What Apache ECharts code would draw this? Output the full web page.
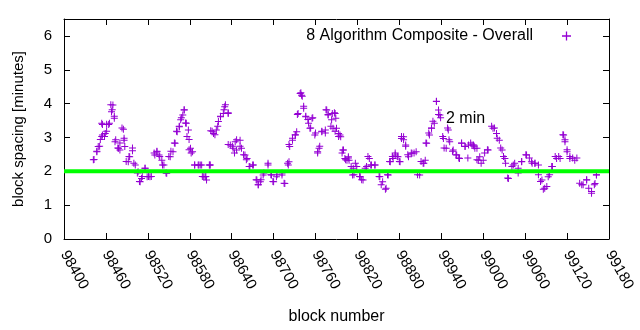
<!DOCTYPE html>
<html><head><meta charset="utf-8">
<script src="https://cdn.jsdelivr.net/npm/echarts@6/dist/echarts.min.js"></script>
<style>html,body{margin:0;padding:0;background:#fff}#c{width:640px;height:330px}</style>
</head><body><div id="c"></div>
<script>
// ---- data ----
const seriesName = "8 Algorithm Composite - Overall";
const refLabel = "2 min";
const refValue = 2;
const xTickMin = 98400, xTickMax = 99180, xTickStep = 60;
const yTickMin = 0, yTickMax = 6.5, yTickStep = 1;

const blockNumbers = [
98443,98447,98449,98452,98455,98459,98454,98461,98465,98468,98470,98472,98473,98478,98480,98485,98486,98487,98492,98494,
98498,98502,98506,98509,98511,98516,98519,98523,98530,98533,98536,98540,98543,98547,98552,98556,98559,98562,98565,98567,
98570,98572,98575,98578,98579,98581,98584,98587,98592,98597,98600,98604,98608,98610,98595,98602,98609,98614,98618,98621,
98624,98628,98630,98635,98638,98642,98645,98647,98652,98654,98659,98662,98666,98671,98676,98678,98681,98685,98692,98697,
98700,98704,98712,98716,98721,98722,98723,98727,98731,98733,98735,98738,98740,98743,98746,98750,98752,98755,98759,98763,
98765,98769,98774,98776,98778,98783,98788,98790,98795,98800,98805,98807,98784,98789,98785,98793,98796,98799,98802,98808,
98814,98817,98813,98824,98828,98833,98837,98840,98845,98852,98856,98861,98864,98867,98871,98874,98878,98881,98883,98886,
98889,98893,98898,98904,98909,98914,98917,98919,98923,98926,98930,98933,98936,98938,98943,98947,98950,98952,98957,98962,
98966,98969,98974,98979,98984,98988,98993,98986,98991,98995,99000,99007,99014,99019,99023,99027,99031,99036,99043,99050,
99055,99062,99069,99074,99079,99084,99088,99093,99098,99105,99110,99115,99117,99120,99124,99131,99141,99148,99155,99160,
99162,
98442,98447,98451,98454,98455,98458,98461,98464,98467,98469,98472,98474,98477,98480,98483,98486,98489,98493,98498,98500,
98505,98508,98512,98516,98521,98525,98529,98533,98537,98541,98546,98550,98553,98558,98561,98565,98568,98572,98574,98576,
98579,98582,98587,98593,98598,98603,98609,98612,98616,98620,98624,98629,98631,98635,98635,98641,98644,98647,98652,98657,
98661,98665,98670,98675,98678,98682,98686,98692,98696,98699,98705,98712,98715,98720,98722,98727,98731,98734,98739,98741,
98743,98746,98749,98753,98756,98760,98763,98766,98769,98774,98775,98778,98782,98787,98788,98793,98798,98803,98807,98811,
98815,98819,98823,98826,98831,98835,98839,98845,98851,98854,98860,98863,98866,98870,98874,98877,98880,98883,98886,98889,
98892,98897,98901,98906,98911,98915,98918,98922,98926,98928,98933,98936,98939,98942,98944,98949,98951,98956,98961,98965,
98969,98974,98978,98982,98987,98991,98997,99002,99006,99012,99016,99020,99025,99029,99032,99035,99041,99045,99050,99055,
99061,99066,99070,99074,99079,99082,99086,99091,99095,99099,99103,99108,99114,99117,99120,99124,99128,99134,99138,99143,
99148,99151,99155,99159,99162
];
const spacingMinutes = [
2.35,2.58,2.73,2.94,3.07,3.12,3.42,3.39,3.42,3.76,3.96,3.57,2.87,2.68,2.63,3.24,2.92,2.73,2.28,2.43,
2.61,2.19,1.99,1.69,1.79,2.09,1.84,1.84,2.48,2.58,2.48,2.33,2.19,1.94,2.43,2.58,2.83,3.17,3.32,3.52,
3.66,3.81,3.42,3.22,2.94,2.68,2.58,2.19,2.19,2.19,1.84,1.74,2.19,3.20,2.19,1.84,2.19,3.12,3.22,3.47,
3.61,3.71,3.91,3.71,2.78,2.68,2.87,2.63,2.92,2.68,2.48,2.38,2.14,2.19,1.74,1.60,1.69,1.89,2.19,1.89,
1.69,1.84,1.89,1.64,2.19,2.28,2.73,2.92,3.07,3.17,3.71,4.30,4.25,3.86,3.61,3.42,3.27,3.57,3.07,2.58,
2.68,3.17,3.22,3.81,3.66,3.52,3.71,3.27,3.07,2.63,2.33,2.43,3.71,3.57,3.27,3.12,3.02,2.63,2.38,2.33,
2.09,2.24,1.89,1.84,1.74,2.14,2.38,2.19,2.19,1.84,1.69,1.50,1.89,2.28,2.38,2.48,2.43,2.28,2.97,3.02,
2.78,2.43,2.53,2.58,1.89,2.24,2.33,2.83,3.07,3.27,3.42,4.06,3.81,3.66,2.97,2.68,3.22,2.87,2.63,2.48,
2.38,2.83,2.73,2.78,2.78,2.68,2.33,2.78,2.68,2.43,2.33,2.63,3.27,3.12,2.92,2.63,2.38,1.79,2.19,2.09,
2.28,2.48,2.28,2.24,2.19,1.74,1.50,1.84,2.14,2.38,2.38,3.07,2.87,2.58,2.38,2.33,1.60,1.74,1.40,1.64,
1.89,
2.34,2.59,2.74,3.03,3.38,3.03,3.18,3.38,3.97,3.82,3.63,2.93,2.69,2.84,3.28,2.98,2.29,2.44,2.69,2.24,
1.95,1.70,1.85,2.09,1.85,1.85,2.54,2.59,2.44,2.19,1.95,2.44,2.59,2.84,3.18,3.33,3.58,3.82,3.43,3.03,
2.64,2.54,2.19,2.19,1.85,1.85,2.19,3.18,3.08,3.33,3.63,3.82,3.97,3.73,2.79,2.74,2.54,2.93,2.74,2.49,
2.34,2.14,2.19,1.75,1.60,1.75,1.95,2.24,1.90,1.70,1.90,1.95,1.65,2.24,2.79,2.98,3.08,3.68,4.32,4.22,
3.92,3.63,3.53,3.28,3.58,3.13,2.54,2.74,3.18,3.13,3.82,3.68,3.33,3.73,3.18,3.03,2.54,2.34,2.39,2.14,
1.90,2.14,1.85,1.75,2.09,2.44,2.19,2.19,1.85,1.60,1.47,1.90,2.29,2.44,2.54,2.44,2.29,3.03,2.93,2.74,
2.49,2.54,2.54,1.90,2.29,2.24,2.84,3.13,3.28,3.48,4.07,3.68,3.58,3.03,2.69,3.28,2.93,2.59,2.49,2.39,
2.84,2.74,2.39,2.84,2.74,2.34,2.24,2.54,2.64,3.33,3.28,2.98,2.69,2.44,2.24,1.80,2.14,2.24,1.95,2.29,
2.49,2.39,2.24,2.24,1.90,1.70,1.47,1.55,1.90,2.14,2.44,2.44,3.08,2.93,2.64,2.44,2.39,2.39,1.65,1.60,
1.75,1.50,1.35,1.60,1.90
];

// ---- chart ----
const purple = '#9400d3';
const plusPath = 'path://M3,0h1v3h3v1h-3v3h-1v-3h-3v-1h3z';
const font = 'Liberation Sans, Arial, sans-serif';
const points = blockNumbers.map((b, i) => [b, spacingMinutes[i]]);

const chart = echarts.init(document.getElementById('c'), null, {renderer: 'canvas'});
const axisLine = {show: true, onZero: false, lineStyle: {color: '#000', width: 1}};
chart.setOption({
  animation: false,
  backgroundColor: '#fff',
  grid: {left: 64, right: 31, top: 19, bottom: 91, containLabel: false},
  legend: {
    data: [{name: seriesName, icon: plusPath}],
    right: 64, top: 23,
    align: 'right',
    itemWidth: 9, itemHeight: 9,
    selectedMode: false,
    textStyle: {fontFamily: font, fontSize: 16, color: '#000', padding: [0, 24, 0, 0]},
    itemStyle: {color: purple}
  },
  xAxis: [{
    type: 'value', min: xTickMin, max: xTickMax, interval: xTickStep,
    name: 'block number', nameLocation: 'middle', nameGap: 70,
    nameTextStyle: {fontFamily: font, fontSize: 16, color: '#000'},
    axisLine: axisLine,
    axisTick: {show: true, inside: true, length: 6, lineStyle: {color: '#000'}},
    axisLabel: {rotate: -60, margin: 13, fontFamily: font, fontSize: 15, color: '#000',
      formatter: v => String(v)},
    splitLine: {show: false}
  }, {
    type: 'value', position: 'top', min: xTickMin, max: xTickMax, interval: xTickStep,
    axisLine: axisLine,
    axisTick: {show: true, inside: true, length: 6, lineStyle: {color: '#000'}},
    axisLabel: {show: false}, splitLine: {show: false}
  }],
  yAxis: [{
    type: 'value', min: yTickMin, max: yTickMax, interval: yTickStep,
    name: 'block spacing [minutes]', nameLocation: 'middle', nameGap: 38,
    nameTextStyle: {fontFamily: font, fontSize: 15, color: '#000'},
    axisLine: axisLine,
    axisTick: {show: true, inside: true, length: 6, lineStyle: {color: '#000'}},
    axisLabel: {margin: 12, fontFamily: font, fontSize: 15, color: '#000',
      formatter: v => (Number.isInteger(v) ? String(v) : '')},
    splitLine: {show: false}
  }, {
    type: 'value', position: 'right', min: yTickMin, max: yTickMax, interval: yTickStep,
    axisLine: axisLine,
    axisTick: {show: true, inside: true, length: 6, lineStyle: {color: '#000'}},
    axisLabel: {show: false}, splitLine: {show: false}
  }],
  series: [{
    name: seriesName,
    type: 'scatter',
    symbol: plusPath,
    symbolSize: 7,
    itemStyle: {color: purple, opacity: 1},
    data: points,
    z: 2
  }, {
    name: refLabel,
    type: 'line',
    data: [[xTickMin, refValue], [xTickMax, refValue]],
    showSymbol: false, symbol: 'none',
    lineStyle: {color: '#00ff00', width: 4},
    z: 3
  }],
  graphic: [{
    type: 'text', left: 446, top: 111,
    style: {text: refLabel, fontFamily: font, fontSize: 16, fill: '#000'}
  }]
});
</script></body></html>
